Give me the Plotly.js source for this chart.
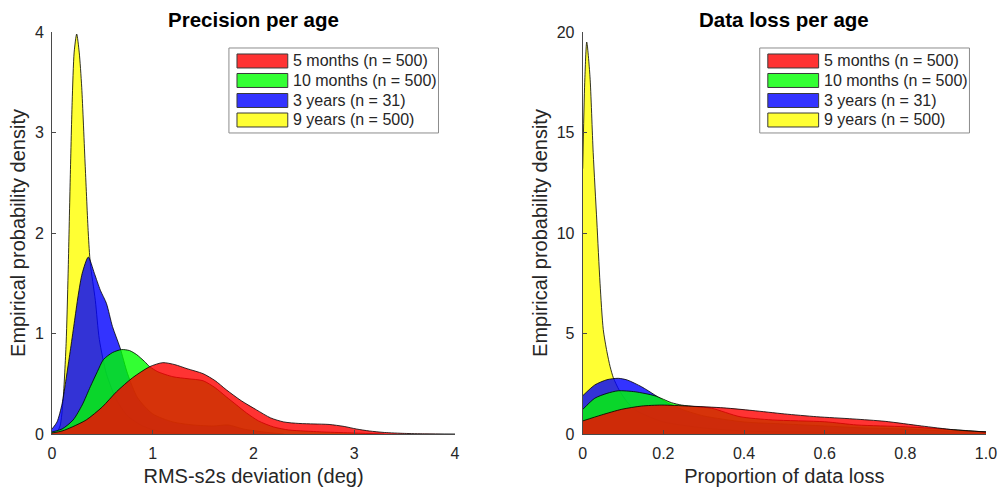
<!DOCTYPE html>
<html>
<head>
<meta charset="utf-8">
<script src="https://cdn.plot.ly/plotly-3.0.1.min.js"></script>
<style>html,body{margin:0;padding:0;background:#fff;}#chart{width:1000px;height:490px;}</style>
</head>
<body>
<div id="chart"></div>
<script>
// ---------- data ----------
const seriesNames = ['5 months (n = 500)', '10 months (n = 500)', '3 years (n = 31)', '9 years (n = 500)'];

// Left panel: RMS-s2s deviation (deg)
const precX_5m  = [0, 0.1, 0.2, 0.34, 0.5, 0.64, 0.8, 0.97, 1.1, 1.22, 1.34, 1.5, 1.62, 1.73, 1.88, 2.03, 2.17, 2.3, 2.45, 2.6, 2.75, 2.9, 3.02, 3.15, 3.3, 3.5, 3.7, 4.0];
const precY_5m  = [0.01, 0.03, 0.07, 0.14, 0.27, 0.42, 0.56, 0.67, 0.71, 0.69, 0.65, 0.60, 0.53, 0.44, 0.33, 0.24, 0.16, 0.12, 0.105, 0.10, 0.095, 0.075, 0.05, 0.03, 0.015, 0.006, 0.002, 0];
const precX_10m = [0, 0.1, 0.21, 0.3, 0.38, 0.45, 0.51, 0.6, 0.69, 0.77, 0.84, 0.92, 0.97, 1.05, 1.2, 1.35, 1.5, 1.62, 1.73, 1.83, 1.93, 2.05, 2.2, 2.35, 2.5, 2.7, 3.0, 3.3];
const precY_10m = [0.02, 0.05, 0.14, 0.29, 0.47, 0.62, 0.74, 0.81, 0.84, 0.83, 0.79, 0.72, 0.67, 0.62, 0.57, 0.55, 0.53, 0.46, 0.37, 0.29, 0.21, 0.13, 0.07, 0.04, 0.03, 0.02, 0.01, 0];
const precX_3y  = [0, 0.05, 0.1, 0.14, 0.18, 0.22, 0.26, 0.3, 0.36, 0.42, 0.48, 0.54, 0.6, 0.675, 0.75, 0.85, 1.0, 1.2, 1.4, 1.6, 1.75, 1.9, 2.1, 2.3];
const precY_3y  = [0.05, 0.12, 0.3, 0.55, 0.82, 1.1, 1.38, 1.6, 1.76, 1.6, 1.43, 1.3, 1.07, 0.86, 0.6, 0.36, 0.2, 0.12, 0.09, 0.08, 0.09, 0.05, 0.02, 0];
const precX_9y  = [0.04, 0.08, 0.11, 0.14, 0.16, 0.18, 0.2, 0.22, 0.245, 0.27, 0.295, 0.33, 0.36, 0.38, 0.43, 0.47, 0.54, 0.64, 0.75, 0.9, 1.05, 1.3];
const precY_9y  = [0, 0.08, 0.34, 0.9, 1.6, 2.5, 3.3, 3.8, 3.98, 3.8, 3.45, 2.66, 2.0, 1.7, 1.33, 0.94, 0.6, 0.34, 0.18, 0.08, 0.03, 0];

// Right panel: proportion of data loss
const lossX_5m  = [0, 0.047, 0.097, 0.146, 0.196, 0.262, 0.35, 0.42, 0.5, 0.58, 0.67, 0.75, 0.84, 0.92, 1.0];
const lossY_5m  = [0.65, 0.95, 1.23, 1.39, 1.44, 1.39, 1.30, 1.17, 1.0, 0.86, 0.75, 0.63, 0.40, 0.21, 0.1];
const lossX_10m = [0, 0.03, 0.06, 0.088, 0.13, 0.179, 0.22, 0.245, 0.28, 0.32, 0.39, 0.47, 0.6, 0.68, 0.8, 0.93, 1.0];
const lossY_10m = [1.22, 1.78, 2.02, 2.15, 2.1, 1.9, 1.56, 1.44, 1.36, 1.28, 0.86, 0.70, 0.61, 0.45, 0.36, 0.2, 0.1];
const lossX_3y  = [0, 0.03, 0.06, 0.088, 0.11, 0.146, 0.179, 0.21, 0.25, 0.3, 0.4, 0.5, 0.6, 0.7, 0.8, 0.9, 1.0];
const lossY_3y  = [1.9, 2.44, 2.7, 2.77, 2.69, 2.35, 1.94, 1.55, 1.2, 0.9, 0.6, 0.5, 0.4, 0.3, 0.25, 0.15, 0.1];
const lossX_9y  = [0, 0.005, 0.01, 0.018, 0.026, 0.035, 0.043, 0.051, 0.06, 0.068, 0.076, 0.09, 0.11, 0.13, 0.16, 0.2, 0.3, 0.4, 0.6, 0.8, 1.0];
const lossY_9y  = [13.2, 17.5, 19.5, 17.8, 14.0, 10.6, 7.5, 5.2, 4.1, 3.35, 2.8, 2.2, 1.6, 1.2, 0.9, 0.6, 0.3, 0.15, 0.08, 0.04, 0.02];

const precTicks = [0, 1, 2, 3, 4];
const precTickText = ['0', '1', '2', '3', '4'];
const lossXTicks = [0, 0.2, 0.4, 0.6, 0.8, 1.0];
const lossXTickText = ['0', '0.2', '0.4', '0.6', '0.8', '1.0'];
const lossYTicks = [0, 5, 10, 15, 20];

// ---------- styles ----------
const fillColors = ['rgba(255,0,0,0.8)', 'rgba(0,255,0,0.8)', 'rgba(0,0,255,0.8)', 'rgba(255,255,0,0.8)'];
const FONT = 'Liberation Sans, Arial, Helvetica, sans-serif';
const TXT = '#262626';

const leftSeries  = [[precX_5m, precY_5m], [precX_10m, precY_10m], [precX_3y, precY_3y], [precX_9y, precY_9y]];
const rightSeries = [[lossX_5m, lossY_5m], [lossX_10m, lossY_10m], [lossX_3y, lossY_3y], [lossX_9y, lossY_9y]];

const traces = [];
const drawOrder = [3, 2, 1, 0]; // yellow at back, red in front
[[leftSeries, 'x', 'y'], [rightSeries, 'x2', 'y2']].forEach(([ser, xa, ya]) => {
  drawOrder.forEach(i => {
    traces.push({
      type: 'scatter', mode: 'lines',
      x: ser[i][0], y: ser[i][1],
      xaxis: xa, yaxis: ya,
      name: seriesNames[i],
      fill: 'tozeroy', fillcolor: fillColors[i],
      line: {color: '#000', width: 0.8, shape: 'spline', smoothing: 0.7},
      showlegend: false, hoverinfo: 'skip'
    });
  });
});

function axisBase(extra) {
  return Object.assign({
    showline: true, linecolor: '#4a4a4a', linewidth: 1,
    ticks: 'inside', ticklen: 4, tickcolor: '#4a4a4a', tickwidth: 1,
    showgrid: false, zeroline: false, mirror: false,
    tickfont: {family: FONT, size: 16, color: TXT},
    automargin: false, fixedrange: true
  }, extra);
}

const shapes = [];
const annotations = [];
const legY = [0.9279, 0.8794, 0.8296, 0.7811];
const sh = 0.0174;
[['x', 'y', 'Precision per age'], ['x2', 'y2', 'Data loss per age']].forEach(([xa, ya, title]) => {
  const xr = xa + ' domain', yr = ya + ' domain';
  annotations.push({xref: xr, yref: yr, x: 0.5, y: 1.0323, xanchor: 'center', yanchor: 'middle',
    text: '<b>' + title + '</b>', showarrow: false, font: {family: FONT, size: 20.5, color: '#000'}});
  shapes.push({type: 'rect', xref: xr, yref: yr, x0: 0.439, x1: 0.959, y0: 0.7488, y1: 0.9602,
    line: {color: '#8c8c8c', width: 1}, fillcolor: '#fff', layer: 'above'});
  seriesNames.forEach((nm, i) => {
    shapes.push({type: 'rect', xref: xr, yref: yr, x0: 0.459, x1: 0.585, y0: legY[i] - sh, y1: legY[i] + sh,
      line: {color: '#3a3a3a', width: 1}, fillcolor: fillColors[i], layer: 'above'});
    annotations.push({xref: xr, yref: yr, x: 0.594, y: legY[i], xanchor: 'left', yanchor: 'middle',
      text: nm, showarrow: false, font: {family: FONT, size: 16, color: TXT}});
  });
});

const layout = {
  width: 1000, height: 490,
  margin: {l: 52, r: 14, t: 32, b: 56},
  paper_bgcolor: '#fff', plot_bgcolor: '#fff',
  showlegend: false,
  font: {family: FONT, color: TXT},
  xaxis: axisBase({domain: [0, 0.4315], range: [0, 4], tickvals: precTicks, ticktext: precTickText, anchor: 'y',
    ticklabelstandoff: 5,
    title: {text: 'RMS-s2s deviation (deg)', font: {family: FONT, size: 20, color: TXT}, standoff: 7}}),
  yaxis: axisBase({domain: [0, 1], range: [0, 4], tickvals: precTicks, ticktext: precTickText, anchor: 'x',
    ticklabelstandoff: 4,
    title: {text: 'Empirical probability density', font: {family: FONT, size: 20, color: TXT}, standoff: 3}}),
  xaxis2: axisBase({domain: [0.5682, 1], range: [0, 1], tickvals: lossXTicks, ticktext: lossXTickText, anchor: 'y2',
    ticklabelstandoff: 5,
    title: {text: 'Proportion of data loss', font: {family: FONT, size: 20, color: TXT}, standoff: 7}}),
  yaxis2: axisBase({domain: [0, 1], range: [0, 20], tickvals: lossYTicks, anchor: 'x2',
    ticklabelstandoff: 4,
    title: {text: 'Empirical probability density', font: {family: FONT, size: 20, color: TXT}, standoff: 3}}),
  shapes: shapes,
  annotations: annotations
};

Plotly.newPlot('chart', traces, layout, {staticPlot: true, displayModeBar: false});
</script>
</body>
</html>
